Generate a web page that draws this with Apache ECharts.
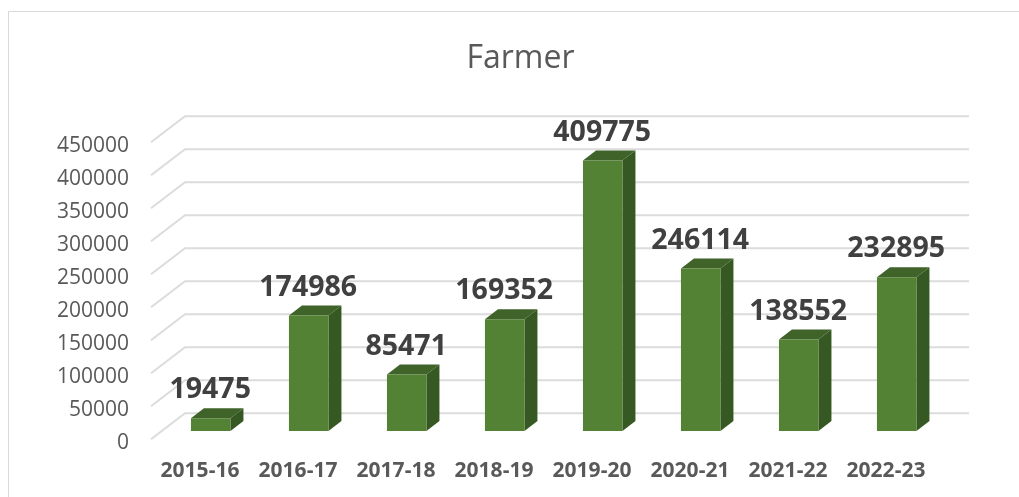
<!DOCTYPE html>
<html>
<head>
<meta charset="utf-8">
<title>Farmer</title>
<script src="https://cdn.jsdelivr.net/npm/echarts@6/dist/echarts.min.js"></script>
<style>
  html, body { margin: 0; padding: 0; background: #fff; }
  #chart { width: 1019px; height: 497px; }
</style>
</head>
<body>
<div id="chart"></div>
<script>
var years = ["2015-16", "2016-17", "2017-18", "2018-19", "2019-20", "2020-21", "2021-22", "2022-23"];
var farmers = [19475, 174986, 85471, 169352, 409775, 246114, 138552, 232895];
var ticks = [0, 50000, 100000, 150000, 200000, 250000, 300000, 350000, 400000, 450000];

// fake 3d: how far the back wall sits from the axis plane, and where the bars stand between them
var wallDx = 34, wallDy = -26;
var barDx = 10.7, barDy = -8.3;
var sideDx = 13, sideDy = -10;

var myChart = echarts.init(document.getElementById("chart"));

function renderGridLine(params, api) {
  var p = api.coord([0, api.value(1)]);
  var band = api.size([1, 0])[0];
  var x0 = p[0] - band / 2;
  var x1 = x0 + band * years.length;
  return {
    type: "polyline",
    silent: true,
    shape: { points: [[x0, p[1]], [x0 + wallDx, p[1] + wallDy], [x1 + wallDx, p[1] + wallDy]] },
    style: { fill: "none", stroke: "#dcdcdc", lineWidth: 2 }
  };
}

function renderBar(params, api) {
  var top = api.coord([api.value(0), api.value(1)]);
  var base = api.coord([api.value(0), 0]);
  var w = api.size([1, 0])[0] * 0.403;
  var l = top[0] + barDx - w / 2;
  var r = l + w;
  var t = top[1] + barDy;
  var b = base[1] + barDy;
  return {
    type: "group",
    children: [
      {
        type: "polygon",
        shape: { points: [[l, t], [r, t], [r + sideDx, t + sideDy], [l + sideDx, t + sideDy]] },
        style: { fill: "#3f6329" }
      },
      {
        type: "polygon",
        shape: { points: [[r, t], [r + sideDx, t + sideDy], [r + sideDx, b + sideDy], [r, b]] },
        style: { fill: "#365822" }
      },
      {
        type: "rect",
        shape: { x: l, y: t, width: w, height: b - t },
        style: { fill: "#548235" }
      },
      {
        type: "text",
        style: {
          x: top[0] + barDx - 0.5,
          y: t - 28,
          text: String(api.value(1)),
          align: "center",
          verticalAlign: "middle",
          fill: "#404040",
          font: "bold 28.5px 'Open Sans'"
        }
      }
    ]
  };
}

var option = {
  animation: false,
  backgroundColor: "#fff",
  title: {
    text: "Farmer",
    left: 515.5,
    top: 38,
    textAlign: "center",
    textStyle: { fontFamily: "Open Sans", fontWeight: "normal", fontSize: 32, color: "#595959" }
  },
  graphic: [
    { type: "line", shape: { x1: 8.5, y1: 11.5, x2: 1019, y2: 11.5 }, style: { stroke: "#d9d9d9", lineWidth: 1 } },
    { type: "line", shape: { x1: 8.5, y1: 11.5, x2: 8.5, y2: 497 }, style: { stroke: "#d9d9d9", lineWidth: 1 } }
  ],
  grid: { left: 151, top: 142.3, width: 784, height: 297 },
  xAxis: {
    type: "category",
    data: years,
    axisLine: { show: false },
    axisTick: { show: false },
    axisLabel: { margin: 21, interval: 0, fontFamily: "Open Sans", fontWeight: "bold", fontSize: 21, color: "#595959" }
  },
  yAxis: {
    type: "value",
    min: 0,
    max: 450000,
    interval: 50000,
    splitLine: { show: false },
    axisLine: { show: false },
    axisTick: { show: false },
    axisLabel: {
      margin: 22,
      // pushes the digits down a little so they sit level with the gridline ends
      formatter: function(v) { return "{t|" + v + "}"; },
      rich: {
        t: { padding: [7, 0, 0, 0], fontFamily: "Open Sans", fontSize: 21, color: "#595959" }
      }
    }
  },
  series: [
    {
      type: "custom",
      z: 1,
      clip: false,
      silent: true,
      renderItem: renderGridLine,
      encode: { x: 0, y: 1 },
      data: ticks.map(function(v) { return [0, v]; })
    },
    {
      type: "custom",
      z: 2,
      clip: false,
      renderItem: renderBar,
      encode: { x: 0, y: 1 },
      data: farmers.map(function(v, i) { return [i, v]; })
    }
  ]
};

myChart.setOption(option);
</script>
</body>
</html>
